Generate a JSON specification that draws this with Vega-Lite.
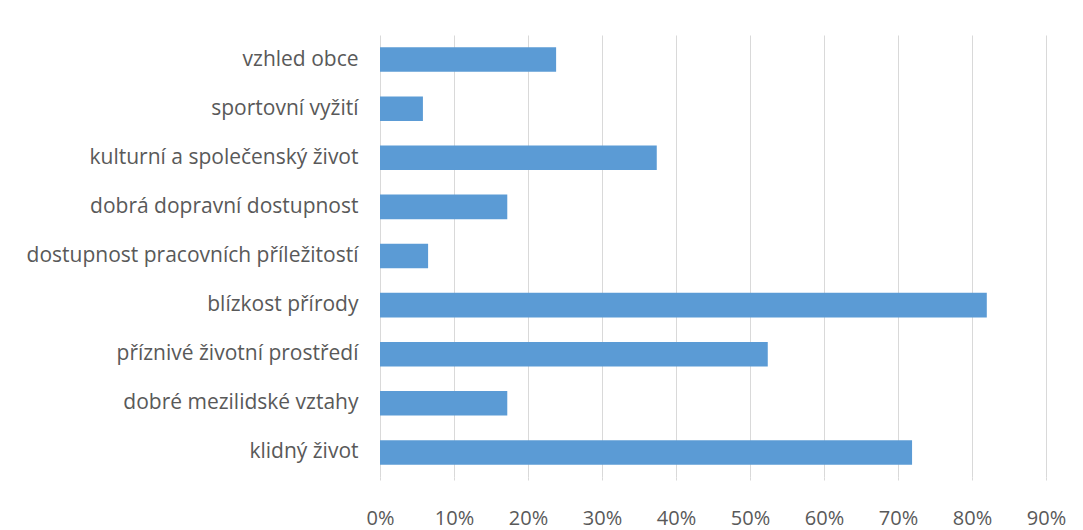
{
  "$schema": "https://vega.github.io/schema/vega-lite/v6.json",
  "width": 666,
  "height": 442,
  "autosize": {"type": "none"},
  "padding": {"left": 380, "top": 35, "right": 37, "bottom": 53},
  "background": "white",
  "config": {"view": {"stroke": null}, "font": "Open Sans"},
  "data": {
    "values": [
      {"kategorie": "vzhled obce", "podil": 0.238},
      {"kategorie": "sportovní vyžití", "podil": 0.058},
      {"kategorie": "kulturní a společenský život", "podil": 0.374},
      {"kategorie": "dobrá dopravní dostupnost", "podil": 0.172},
      {"kategorie": "dostupnost pracovních příležitostí", "podil": 0.065},
      {"kategorie": "blízkost přírody", "podil": 0.82},
      {"kategorie": "příznivé životní prostředí", "podil": 0.524},
      {"kategorie": "dobré mezilidské vztahy", "podil": 0.172},
      {"kategorie": "klidný život", "podil": 0.719}
    ]
  },
  "mark": {"type": "bar", "color": "#5B9BD5"},
  "encoding": {
    "y": {
      "field": "kategorie",
      "type": "nominal",
      "sort": null,
      "scale": {"paddingInner": 0.5, "paddingOuter": 0.25},
      "axis": {
        "title": null,
        "domain": false,
        "ticks": false,
        "labelPadding": 22,
        "labelFontSize": 21,
        "labelColor": "#595959",
        "labelLimit": 400
      }
    },
    "x": {
      "field": "podil",
      "type": "quantitative",
      "scale": {"domain": [0, 0.9]},
      "axis": {
        "title": null,
        "format": "%",
        "values": [0, 0.1, 0.2, 0.3, 0.4, 0.5, 0.6, 0.7, 0.8, 0.9],
        "domain": false,
        "ticks": true,
        "tickSize": 3,
        "tickColor": "#D9D9D9",
        "grid": true,
        "gridColor": "#D9D9D9",
        "gridWidth": 1,
        "labelFlush": false,
        "labelOverlap": false,
        "labelPadding": 28,
        "labelFontSize": 20,
        "labelColor": "#595959"
      }
    }
  }
}
